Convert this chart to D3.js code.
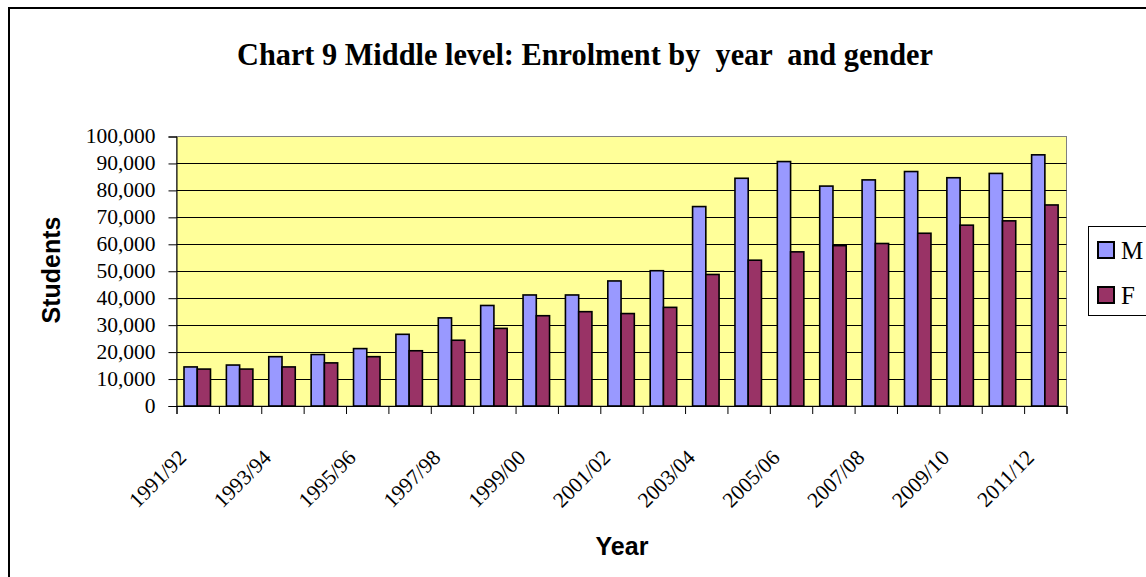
<!DOCTYPE html>
<html>
<head>
<meta charset="utf-8">
<script src="https://cdn.jsdelivr.net/npm/d3@7"></script>
<style>
  body { margin: 0; background: #fff; }
  svg { display: block; }
</style>
</head>
<body>
<script>
// chart data
var years = ["1991/92", "1992/93", "1993/94", "1994/95", "1995/96", "1996/97", "1997/98",
  "1998/99", "1999/00", "2000/01", "2001/02", "2002/03", "2003/04", "2004/05",
  "2005/06", "2006/07", "2007/08", "2008/09", "2009/10", "2010/11", "2011/12"];

var male = [14500, 15200, 18300, 19100, 21300, 26600, 32700, 37300, 41200, 41200, 46400,
  50200, 74000, 84500, 90700, 81600, 83900, 87000, 84700, 86300, 93200];

var female = [13700, 13700, 14500, 16000, 18300, 20500, 24400, 28800, 33500, 35000, 34300,
  36600, 48800, 54100, 57200, 59500, 60300, 64100, 67100, 68700, 74600];

var seriesNames = ["M", "F"];
var seriesColors = ["#9999FF", "#993366"];
var yTickValues = [0, 10000, 20000, 30000, 40000, 50000, 60000, 70000, 80000, 90000, 100000];

var width = 1146,
    height = 577;

// plot area in pixels (window.top is taken, so use own names)
var plotLeft = 176.5, plotRight = 1066.5,
    plotTop = 136.5, plotBottom = 406;

var svg = d3.select('body')
  .append('svg')
  .attr('width', width)
  .attr('height', height);

// outer chart border, runs off the right and bottom of the picture
svg.append('rect')
  .attr('x', 9)
  .attr('y', 8)
  .attr('width', 1160)
  .attr('height', 600)
  .attr('fill', '#fff')
  .attr('stroke', '#000')
  .attr('stroke-width', 2);

// title, a tall narrow bold serif
svg.append('text')
  .attr('x', 237)
  .attr('y', 65)
  .attr('textLength', 696)
  .attr('lengthAdjust', 'spacingAndGlyphs')
  .style('white-space', 'pre')
  .attr('font-family', '"Liberation Serif", "Times New Roman", serif')
  .attr('font-weight', 'bold')
  .attr('font-size', 32)
  .text('Chart 9 Middle level: Enrolment by  year  and gender');

var x = d3.scaleBand()
  .domain(years)
  .range([plotLeft, plotRight]);

// position of the two bars inside one year
var xs = d3.scaleBand()
  .domain(seriesNames)
  .range([7.5, 34]);

var y = d3.scaleLinear()
  .domain([0, 100000])
  .range([plotBottom, plotTop]);

// yellow plot area
svg.append('rect')
  .attr('x', plotLeft)
  .attr('y', plotTop)
  .attr('width', plotRight - plotLeft)
  .attr('height', plotBottom - plotTop)
  .attr('fill', '#FFFF99')
  .attr('stroke', '#808080')
  .attr('stroke-width', 1);

// gridlines
svg.append('g')
  .selectAll('line')
  .data(yTickValues.slice(1, -1))
  .enter().append('line')
  .attr('x1', plotLeft)
  .attr('x2', plotRight)
  .attr('y1', function(d) { return Math.round(y(d)) + 0.5; })
  .attr('y2', function(d) { return Math.round(y(d)) + 0.5; })
  .attr('stroke', '#000')
  .attr('stroke-width', 1);

// bars, one group per year
var table = years.map(function(yr, i) {
  return { year: yr, values: [male[i], female[i]] };
});

var groups = svg.append('g')
  .selectAll('g')
  .data(table)
  .enter().append('g')
  .attr('transform', function(d) { return 'translate(' + x(d.year) + ',0)'; });

groups.selectAll('rect')
  .data(function(d) { return d.values; })
  .enter().append('rect')
  .attr('x', function(d, i) { return xs(seriesNames[i]); })
  .attr('y', function(d) { return y(d); })
  .attr('width', xs.bandwidth())
  .attr('height', function(d) { return plotBottom - y(d); })
  .attr('fill', function(d, i) { return seriesColors[i]; })
  .attr('stroke', '#000')
  .attr('stroke-width', 1.6);

// y axis
var yAxis = d3.axisLeft(y)
  .tickValues(yTickValues)
  .tickSize(8)
  .tickPadding(13)
  .tickFormat(d3.format(','));

var gy = svg.append('g')
  .attr('transform', 'translate(' + plotLeft + ',0)')
  .call(yAxis);

gy.select('.domain').attr('stroke', '#000');
gy.selectAll('.tick line').attr('stroke', '#000');
gy.selectAll('.tick text')
  .attr('font-family', '"Liberation Serif", "Times New Roman", serif')
  .attr('font-size', 21.5)
  .attr('fill', '#000')
  .attr('dy', '0.3em');

// x axis: ticks on the borders between years
var xb = d3.scaleLinear()
  .domain([0, years.length])
  .range([plotLeft, plotRight]);

var gx = svg.append('g')
  .attr('transform', 'translate(0,' + plotBottom + ')')
  .call(d3.axisBottom(xb)
    .tickValues(d3.range(years.length + 1))
    .tickSize(8)
    .tickFormat(''));

gx.select('.domain').attr('stroke', '#000');
gx.selectAll('.tick line').attr('stroke', '#000');

// year labels, every other year, slanted
svg.append('g')
  .selectAll('text')
  .data(years.filter(function(d, i) { return i % 2 === 0; }))
  .enter().append('text')
  .attr('transform', function(d) {
    return 'translate(' + (x(d) + x.bandwidth() / 2 - 10) + ',459) rotate(-45)';
  })
  .attr('text-anchor', 'end')
  .attr('font-family', '"Liberation Serif", "Times New Roman", serif')
  .attr('font-size', 21.5)
  .text(function(d) { return d; });

// axis titles
svg.append('text')
  .attr('transform', 'translate(60,270) rotate(-90)')
  .attr('text-anchor', 'middle')
  .attr('font-family', '"Liberation Sans", Arial, sans-serif')
  .attr('font-weight', 'bold')
  .attr('font-size', 25)
  .text('Students');

svg.append('text')
  .attr('x', 622)
  .attr('y', 555)
  .attr('text-anchor', 'middle')
  .attr('font-family', '"Liberation Sans", Arial, sans-serif')
  .attr('font-weight', 'bold')
  .attr('font-size', 25)
  .text('Year');

// legend
var legend = svg.append('g');

legend.append('rect')
  .attr('x', 1088.5)
  .attr('y', 226.5)
  .attr('width', 80)
  .attr('height', 89)
  .attr('fill', '#fff')
  .attr('stroke', '#000')
  .attr('stroke-width', 1);

var items = legend.selectAll('g')
  .data(seriesNames)
  .enter().append('g')
  .attr('transform', function(d, i) { return 'translate(1098,' + (242 + i * 45) + ')'; });

items.append('rect')
  .attr('width', 16)
  .attr('height', 16)
  .attr('fill', function(d, i) { return seriesColors[i]; })
  .attr('stroke', '#000')
  .attr('stroke-width', 2);

items.append('text')
  .attr('x', 23)
  .attr('y', 16.5)
  .attr('font-family', '"Liberation Serif", "Times New Roman", serif')
  .attr('font-size', 25)
  .text(function(d) { return d; });
</script>
</body>
</html>
